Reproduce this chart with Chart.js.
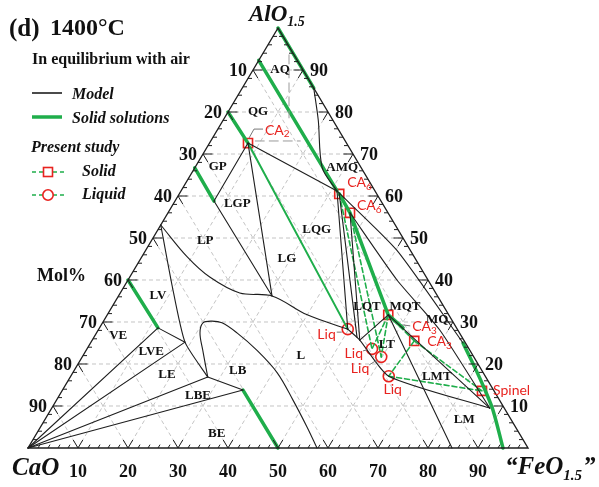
<!DOCTYPE html>
<html>
<head>
<meta charset="utf-8">
<script src="https://cdn.jsdelivr.net/npm/chart.js@4.4.0/dist/chart.umd.min.js"></script>
<style>
  html, body { margin: 0; padding: 0; background: #fff; }
  #wrap { width: 599px; height: 487px; position: relative; }
</style>
</head>
<body>
<div id="wrap"><canvas id="chart"></canvas></div>
<script>
// All compositions are mol% written as [FeO1.5, AlO1.5]; CaO is the rest.
const gridValues = [10, 20, 30, 40, 50, 60, 70, 80, 90];
const feoTickLabels = ['10', '20', '30', '40', '50', '60', '70', '80', '90'];
const caoTickLabels = ['10', '20', '30', '40', '50', '60', '70', '80', '90'];
const aloTickLabels = ['10', '20', '30', '40', '50', '60', '70', '80', '90'];

const triangleEdge = [[0, 0], [100, 0], [0, 100], [0, 0]];

// Model phase boundaries (black)
const lineCorQ   = [[14.3, 85.7], [19.0, 78.1], [25.5, 66.7], [31.2, 61.2]];
const lineCA2Q   = [[7.7, 72.6], [31.2, 61.2]];
const lineCA2P   = [[7.7, 72.6], [7.8, 58.8]];
const lineCA2L   = [[7.7, 72.6], [30.7, 36.2]];
const linePL     = [[7.8, 58.8], [30.7, 36.2]];
const liquidusUp = [[0, 53.1], [9.1, 45.5], [16.0, 40.7], [23.9, 36.9], [30.7, 36.2], [40.0, 31.7], [49.8, 28.3]];
const lineVL     = [[0, 53.1], [9.4, 38.8], [18.8, 25.2], [27.5, 16.9]];
const lineC3AL   = [[11.7, 28.6], [18.8, 25.2]];
const fanVE      = [[0, 0], [11.7, 28.6]];
const fanLVE     = [[0, 0], [18.8, 25.2]];
const fanLE      = [[0, 0], [27.5, 16.9]];
const fanBE      = [[0, 0], [36.1, 13.8]];
const lineLBE    = [[27.5, 16.9], [36.1, 13.8]];
const loopLB     = [[27.5, 16.9], [23.3, 23.3], [20.7, 27.4], [20.1, 29.8], [21.7, 30.2], [23.9, 29.8],
                    [28.1, 27.4], [34.1, 23.3], [40.9, 17.9], [47.3, 11.4], [53.3, 5.0], [57.8, 0]];
const lineQL1    = [[31.2, 61.2], [49.8, 28.3]];
const lineQL2    = [[32.0, 60.5], [52.6, 26.4]];
const lineQL3    = [[36.4, 56.0], [53.5, 25.7]];
const liquidusLo = [[49.8, 28.3], [53.5, 25.7], [63.6, 17.1], [87.6, 9.5]];
const lineTL     = [[53.5, 25.7], [56.2, 31.7]];
const lineAMQ    = [[31.2, 61.2], [50.2, 47.1], [74.5, 25.0]];
const lineQM2    = [[36.4, 56.0], [53.8, 40.0], [68.3, 28.1], [87.6, 9.5]];
const lineTM     = [[56.2, 31.7], [87.6, 9.5]];
const lineTLM    = [[56.2, 31.7], [84.8, 0]];
const metaVert   = [[5.4, 93.6], [12.9, 78.6]];
const metaHorz   = [[8.9, 73.1], [17.9, 73.1]];

// Solid solutions (green)
const ssCorundum = [[0, 100], [14.3, 85.7]];
const ssCA6      = [[0, 92.3], [31.2, 61.2]];
const ssCA6Fe    = [[32.0, 60.5], [36.4, 56.0], [56.2, 31.7], [60.7, 28.6]];
const ssCA2      = [[0, 80], [7.7, 72.6]];
const ssCA       = [[0, 66.7], [7.8, 58.8]];
const ssC3A      = [[0, 40], [11.7, 28.6]];
const ssC2F      = [[36.1, 13.8], [50, 0]];
const ssSpinel   = [[74.5, 25.0], [80.3, 18.6], [84.5, 13.8], [88.5, 9.0], [95, 0]];
const tieCA2Liq  = [[7.7, 72.6], [49.8, 28.3]];

// Present study
const solidPoints  = [[7.7, 72.6], [32.0, 60.5], [36.4, 56.0], [56.2, 31.7], [64.5, 25.5], [84.0, 13.6]];
const solidNames   = [['CA', '2'], ['CA', '6'], ['CA', '6'], ['CA', '3'], ['CA', '3'], ['Spinel', '']];
const liquidPoints = [[49.8, 28.3], [57.0, 23.6], [59.8, 21.7], [63.6, 17.1]];
const tieLines = [
  [[32.0, 60.5], [57.0, 23.6]],
  [[36.4, 56.0], [59.8, 21.7]],
  [[56.2, 31.7], [57.0, 23.6]],
  [[56.2, 31.7], [59.8, 21.7]],
  [[56.2, 31.7], [64.5, 25.5]],
  [[64.5, 25.5], [63.6, 17.1]],
  [[64.5, 25.5], [84.0, 13.6]],
  [[63.6, 17.1], [84.0, 13.6]]
];

// Phase field labels
const fieldNames = ['AQ', 'QG', 'GP', 'AMQ', 'LGP', 'LP', 'LG', 'LQG', 'LV', 'VE', 'LVE', 'LE', 'LB', 'LBE', 'BE', 'L',
                    'LQT', 'MQT', 'MQ', 'LT', 'LMT', 'LM'];
const fieldSpots = [[5.4, 90], [6.0, 80], [4.4, 67.1], [29.5, 66.7], [12.8, 58.1], [10.8, 49.3], [29.3, 45], [31.7, 52.1],
                    [7.9, 36.2], [4.7, 26.7], [13.2, 22.9], [19.1, 17.4], [32.8, 18.3], [27.8, 12.4], [36.1, 3.3], [43.6, 21.9],
                    [51.0, 33.6], [58.6, 33.6], [66.6, 30.5], [59.5, 24.5], [73.3, 16.9], [83.9, 6.7]];

const BLACK = '#1e1e1e';
const GREEN = '#1fae4b';
const RED = '#e8231f';
const SERIF = '"Liberation Serif", "DejaVu Serif", serif';
const SANS = 'Lato, "Open Sans", sans-serif';

const toXY = ([fe, al]) => ({ x: fe + al / 2, y: al });

function lineSet(points, color, width, dash, tension) {
  return {
    data: points.map(toXY), showLine: true, borderColor: color, borderWidth: width,
    borderDash: dash || [], pointRadius: 0, pointHoverRadius: 0, tension: tension || 0,
    fill: false, clip: false, borderCapStyle: 'round'
  };
}

const datasets = [
  lineSet(triangleEdge, BLACK, 1.4),
  lineSet(lineCorQ, BLACK, 1.1, null, 0.3),
  lineSet(lineCA2Q, BLACK, 1.1),
  lineSet(lineCA2P, BLACK, 1.1),
  lineSet(lineCA2L, BLACK, 1.1),
  lineSet(linePL, BLACK, 1.1),
  lineSet(liquidusUp, BLACK, 1.1, null, 0.35),
  lineSet(lineVL, BLACK, 1.1, null, 0.2),
  lineSet(lineC3AL, BLACK, 1.1),
  lineSet(fanVE, BLACK, 1.1),
  lineSet(fanLVE, BLACK, 1.1),
  lineSet(fanLE, BLACK, 1.1),
  lineSet(fanBE, BLACK, 1.1),
  lineSet(lineLBE, BLACK, 1.1),
  lineSet(loopLB, BLACK, 1.1, null, 0.35),
  lineSet(lineQL1, BLACK, 1.1),
  lineSet(lineQL2, BLACK, 1.1),
  lineSet(lineQL3, BLACK, 1.1),
  lineSet(liquidusLo, BLACK, 1.1, null, 0.2),
  lineSet(lineTL, BLACK, 1.1),
  lineSet(lineAMQ, BLACK, 1.1, null, 0.2),
  lineSet(lineQM2, BLACK, 1.1, null, 0.2),
  lineSet(lineTM, BLACK, 1.1),
  lineSet(lineTLM, BLACK, 1.1),
  lineSet(metaVert, '#9a9a9a', 1, [9, 5]),
  lineSet(metaHorz, '#9a9a9a', 1, [9, 5]),
  lineSet(ssCorundum, GREEN, 3.5),
  lineSet(ssCA6, GREEN, 3.5),
  lineSet(ssCA6Fe, GREEN, 3.5),
  lineSet(ssCA2, GREEN, 3.5),
  lineSet(ssCA, GREEN, 3.5),
  lineSet(ssC3A, GREEN, 3.5),
  lineSet(ssC2F, GREEN, 3.5),
  lineSet(ssSpinel, GREEN, 3.5, null, 0.3),
  lineSet(tieCA2Liq, GREEN, 2)
];
tieLines.forEach(t => datasets.push(lineSet(t, GREEN, 1.6, [5, 3])));
datasets.push({
  data: solidPoints.map(toXY), showLine: false, pointStyle: 'rect', pointRadius: 6.4,
  borderColor: RED, borderWidth: 1.6, backgroundColor: 'rgba(0,0,0,0)', clip: false
});
datasets.push({
  data: liquidPoints.map(toXY), showLine: false, pointStyle: 'circle', pointRadius: 5.5,
  borderColor: RED, borderWidth: 1.6, backgroundColor: 'rgba(0,0,0,0)', clip: false
});

function pix(chart, fe, al) {
  return [chart.scales.x.getPixelForValue(fe + al / 2), chart.scales.y.getPixelForValue(al)];
}
function seg(chart, ctx, a, b) {
  const p = pix(chart, a[0], a[1]), q = pix(chart, b[0], b[1]);
  ctx.beginPath(); ctx.moveTo(p[0], p[1]); ctx.lineTo(q[0], q[1]); ctx.stroke();
}
function subText(ctx, main, sub, x, y, size, subSize, align, drop) {
  ctx.font = size;
  const w1 = ctx.measureText(main).width;
  ctx.font = subSize;
  const w2 = ctx.measureText(sub).width;
  let x0 = x;
  if (align === 'right') x0 = x - w1 - w2;
  if (align === 'center') x0 = x - (w1 + w2) / 2;
  ctx.textAlign = 'left';
  ctx.font = size; ctx.fillText(main, x0, y);
  ctx.font = subSize; ctx.fillText(sub, x0 + w1, y + (drop || 4));
}

const ternaryGrid = {
  id: 'ternaryGrid',
  beforeDatasetsDraw(chart) {
    const ctx = chart.ctx;
    ctx.save();
    ctx.strokeStyle = '#c4c4c4'; ctx.lineWidth = 1; ctx.setLineDash([4, 3]);
    gridValues.forEach(g => {
      seg(chart, ctx, [0, g], [100 - g, g]);
      seg(chart, ctx, [g, 0], [g, 100 - g]);
      seg(chart, ctx, [g, 0], [0, g]);
    });
    ctx.restore();
  },
  afterDatasetsDraw(chart) {
    const ctx = chart.ctx;
    ctx.save();
    ctx.strokeStyle = BLACK; ctx.lineWidth = 1; ctx.setLineDash([]);
    for (let v = 2; v < 100; v += 2) {
      const major = v % 10 === 0;
      const L = major ? 1.9 : 0.8;
      seg(chart, ctx, [v, 0], [v, L]);
      if (major) seg(chart, ctx, [v, 0], [v - L, L]);
      seg(chart, ctx, [0, v], [L, v]);
      if (major) seg(chart, ctx, [0, v], [L, v - L]);
      seg(chart, ctx, [100 - v, v], [100 - v - L, v]);
      if (major) seg(chart, ctx, [100 - v, v], [100 - v, v - L]);
    }
    ctx.restore();
  }
};

const ternaryText = {
  id: 'ternaryText',
  afterDraw(chart) {
    const ctx = chart.ctx;
    ctx.save();
    ctx.fillStyle = '#111';
    ctx.textBaseline = 'alphabetic';

    // title and legend
    ctx.font = 'bold 25px ' + SERIF; ctx.textAlign = 'left';
    ctx.fillText('(d)', 9, 36);
    ctx.font = 'bold 24px ' + SERIF;
    ctx.fillText('1400°C', 50, 35);
    ctx.font = 'bold 16px ' + SERIF;
    ctx.fillText('In equilibrium with air', 32, 64);
    ctx.font = 'italic bold 16px ' + SERIF;
    ctx.fillText('Model', 72, 99);
    ctx.fillText('Solid solutions', 72, 123);
    ctx.fillText('Present study', 31, 152);
    ctx.fillText('Solid', 82, 176);
    ctx.fillText('Liquid', 82, 199);
    ctx.lineWidth = 1.6; ctx.strokeStyle = BLACK;
    ctx.beginPath(); ctx.moveTo(32, 93); ctx.lineTo(62, 93); ctx.stroke();
    ctx.lineWidth = 3.5; ctx.strokeStyle = GREEN;
    ctx.beginPath(); ctx.moveTo(32, 117); ctx.lineTo(62, 117); ctx.stroke();
    ctx.lineWidth = 1.5; ctx.setLineDash([4, 3]);
    ctx.beginPath(); ctx.moveTo(32, 172); ctx.lineTo(64, 172); ctx.stroke();
    ctx.beginPath(); ctx.moveTo(32, 195); ctx.lineTo(64, 195); ctx.stroke();
    ctx.setLineDash([]); ctx.strokeStyle = RED; ctx.lineWidth = 1.6;
    ctx.fillStyle = '#fff';
    ctx.fillRect(43.5, 167.5, 9, 9); ctx.strokeRect(43.5, 167.5, 9, 9);
    ctx.beginPath(); ctx.arc(48, 195, 5.2, 0, Math.PI * 2); ctx.fill(); ctx.stroke();
    ctx.fillStyle = '#111';
    ctx.font = 'bold 18px ' + SERIF;
    ctx.fillText('Mol%', 37, 281);

    // apex names
    subText(ctx, 'AlO', '1.5', 249, 21, 'italic bold 23px ' + SERIF, 'italic bold 14px ' + SERIF, 'left', 5);
    ctx.font = 'italic bold 25px ' + SERIF; ctx.textAlign = 'left';
    ctx.fillText('CaO', 12, 475);
    ctx.fillText('\u201CFeO', 505, 474);
    const wFe = ctx.measureText('\u201CFeO').width;
    ctx.font = 'italic bold 15px ' + SERIF;
    ctx.fillText('1.5', 505 + wFe, 480);
    const w15 = ctx.measureText('1.5').width;
    ctx.font = 'italic bold 25px ' + SERIF;
    ctx.fillText('\u201D', 505 + wFe + w15 + 1, 474);

    // axis numbers
    ctx.font = 'bold 18px ' + SERIF;
    gridValues.forEach((g, i) => {
      let p = pix(chart, g, 0);
      ctx.textAlign = 'center'; ctx.fillText(feoTickLabels[i], p[0], p[1] + 29);
      p = pix(chart, 0, 100 - g);
      ctx.textAlign = 'right'; ctx.fillText(caoTickLabels[i], p[0] - 6, p[1] + 6);
      p = pix(chart, 100 - g, g);
      ctx.textAlign = 'left'; ctx.fillText(aloTickLabels[i], p[0] + 7, p[1] + 6);
    });

    // phase fields
    ctx.font = 'bold 13px ' + SERIF; ctx.textAlign = 'center'; ctx.textBaseline = 'middle';
    fieldNames.forEach((n, i) => {
      const p = pix(chart, fieldSpots[i][0], fieldSpots[i][1]);
      ctx.fillText(n, p[0], p[1]);
    });

    // red labels of the present study
    ctx.textBaseline = 'middle'; ctx.fillStyle = RED;
    const offs = [[17, -13], [8, -11], [7, -7], [24, 12], [13, 1], [11, 0]];
    solidPoints.forEach((s, i) => {
      const p = pix(chart, s[0], s[1]);
      subText(ctx, solidNames[i][0], solidNames[i][1], p[0] + offs[i][0], p[1] + offs[i][1],
        '14px ' + SANS, '10px ' + SANS, 'left');
    });
    const liqOffs = [[-12, 5, 'right'], [-9, 5, 'right'], [-12, 12, 'right'], [4, 13, 'center']];
    liquidPoints.forEach((s, i) => {
      const p = pix(chart, s[0], s[1]);
      ctx.font = '14px ' + SANS; ctx.textAlign = liqOffs[i][2];
      ctx.fillText('Liq', p[0] + liqOffs[i][0], p[1] + liqOffs[i][1]);
    });
    // leader lines
    ctx.strokeStyle = '#777'; ctx.lineWidth = 1;
    const lead = (pt, pts) => {
      const p = pix(chart, pt[0], pt[1]);
      ctx.beginPath(); ctx.moveTo(p[0] + pts[0][0], p[1] + pts[0][1]);
      for (let k = 1; k < pts.length; k++) ctx.lineTo(p[0] + pts[k][0], p[1] + pts[k][1]);
      ctx.stroke();
    };
    lead(solidPoints[0], [[1, -5], [6, -14], [15, -14]]);
    lead(solidPoints[3], [[14, 10], [22, 11]]);
    lead(liquidPoints[0], [[-11, 3], [-6, 3]]);
    lead(liquidPoints[1], [[-9, 2], [-5, 1]]);
    lead(liquidPoints[2], [[-12, 8], [-4, 3]]);
    ctx.restore();
  }
};

new Chart(document.getElementById('chart'), {
  type: 'scatter',
  data: { datasets },
  options: {
    responsive: true,
    maintainAspectRatio: false,
    animation: false,
    layout: { padding: 0, autoPadding: false },
    plugins: { legend: { display: false }, tooltip: { enabled: false } },
    events: [],
    scales: {
      x: { type: 'linear', display: false, min: -5.6, max: 114.2 },
      y: { type: 'linear', display: false, min: -9.286, max: 106.667 }
    }
  },
  plugins: [ternaryGrid, ternaryText]
});
</script>
</body>
</html>
